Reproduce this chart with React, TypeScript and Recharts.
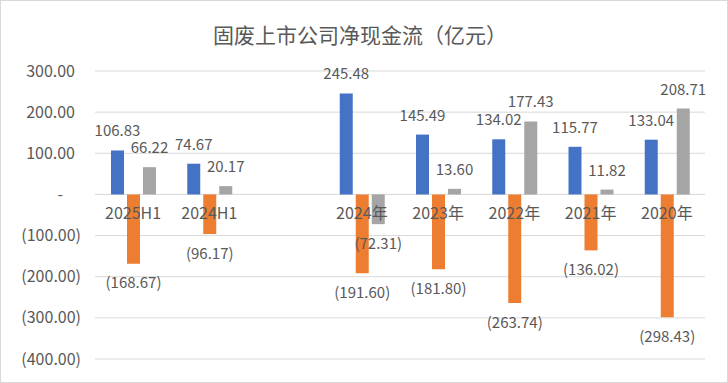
import { BarChart, Bar, XAxis, YAxis, CartesianGrid, LabelList } from 'recharts';

const categories = ['2025H1', '2024H1', '', '2024年', '2023年', '2022年', '2021年', '2020年'];
const operating = [106.83, 74.67, null, 245.48, 145.49, 134.02, 115.77, 133.04];
const investing = [-168.67, -96.17, null, -191.6, -181.8, -263.74, -136.02, -298.43];
const financing = [66.22, 20.17, null, -72.31, 13.6, 177.43, 11.82, 208.71];
const yTicks = [-400, -300, -200, -100, 0, 100, 200, 300];

const data = categories.map((name, i) => ({
  name,
  operating: operating[i],
  investing: investing[i],
  financing: financing[i],
}));

const W = 728;
const H = 383;
const xAxisH = 24;
const margin = { top: 71, right: 23, bottom: 0, left: 0 };
const plotH = H - margin.top - margin.bottom - xAxisH;
const zeroY = margin.top + (plotH * 300) / 700;
const textColor = '#595959';
const font = '"Noto Sans CJK SC", "Noto Sans", sans-serif';

const fmt = (v: any) => {
  if (v == null) return '';
  const n = Number(v);
  if (n === 0) return '-';
  const s = Math.abs(n).toFixed(2);
  return n < 0 ? `(${s})` : s;
};

function YTick(props: any) {
  const { payload } = props;
  const v = payload.value;
  let x = 81;
  if (v > 0) x = 75;
  if (v === 0) x = 63;
  return (
    <text x={x} y={props.y} dy="0.35em" textAnchor="end" fontSize={16} fill={textColor} fontFamily={font}>
      {fmt(v)}
    </text>
  );
}

function XTick(props: any) {
  const { x, payload } = props;
  return (
    <text x={x} y={zeroY + 25} textAnchor="middle" fontSize={16} fill={textColor} fontFamily={font}>
      {payload.value}
    </text>
  );
}

export default function App() {
  const labelStyle = { fontSize: 15, fill: textColor, fontFamily: font };
  return (
    <div
      style={{
        position: 'absolute',
        left: 0,
        top: 0,
        width: W,
        height: H,
        boxSizing: 'border-box',
        border: '1px solid #d9d9d9',
        background: '#fff',
      }}
    >
      <div
        style={{
          position: 'absolute',
          left: 0,
          top: 18,
          width: 718,
          textAlign: 'center',
          fontSize: 21,
          color: textColor,
          fontFamily: font,
        }}
      >
        固废上市公司净现金流（亿元）
      </div>
      <div style={{ position: 'absolute', left: -1, top: -1 }}>
        <BarChart width={W} height={H} data={data} margin={margin} barSize={13} barGap={3}>
          <CartesianGrid vertical={false} stroke="#d9d9d9" />
          <XAxis
            dataKey="name"
            height={xAxisH}
            axisLine={false}
            tickLine={false}
            tick={<XTick />}
            interval={0}
          />
          <YAxis
            width={95}
            domain={[-400, 300]}
            ticks={yTicks}
            axisLine={false}
            tickLine={false}
            tick={<YTick />}
            interval={0}
          />
          <Bar dataKey="operating" fill="#4472C4" isAnimationActive={false}>
            <LabelList dataKey="operating" position="top" offset={14} formatter={fmt} style={labelStyle} />
          </Bar>
          <Bar dataKey="investing" fill="#ED7D31" isAnimationActive={false}>
            <LabelList dataKey="investing" position="top" offset={14} formatter={fmt} style={labelStyle} />
          </Bar>
          <Bar dataKey="financing" fill="#A5A5A5" isAnimationActive={false}>
            <LabelList dataKey="financing" position="top" offset={14} formatter={fmt} style={labelStyle} />
          </Bar>
        </BarChart>
      </div>
    </div>
  );
}
